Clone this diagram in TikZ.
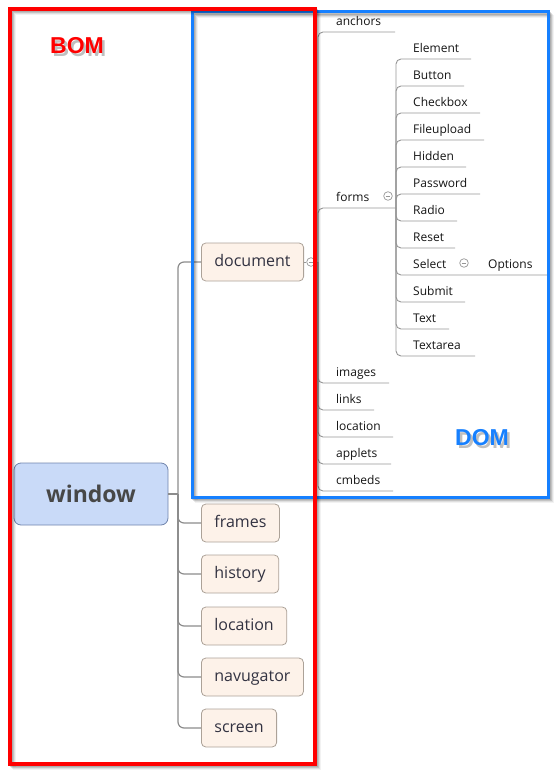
\documentclass[tikz,border=0pt]{standalone}
\usepackage{fontspec}
\setmainfont{Open Sans}
\newfontfamily\labelfont{Liberation Sans}
\usetikzlibrary{calc}
\definecolor{bomred}{RGB}{255,0,0}
\definecolor{domblue}{RGB}{22,128,255}
\definecolor{nodefill}{RGB}{253,242,233}
\definecolor{nodeborder}{RGB}{172,162,152}
\definecolor{winfill}{RGB}{201,218,248}
\definecolor{winborder}{RGB}{112,132,172}
\definecolor{linegray}{RGB}{150,150,150}
\definecolor{trunkgray}{RGB}{140,140,140}
\definecolor{txt}{RGB}{20,20,20}
\definecolor{nodetxt}{RGB}{50,50,65}
\begin{document}
\begin{tikzpicture}[x=1pt,y=-1pt,
  topic/.style={draw=nodeborder, fill=nodefill, rounded corners=4.5pt, line width=0.8pt,
    font=\fontsize{16}{18}\selectfont, text=nodetxt, minimum height=38pt,
    inner xsep=13pt, text height=11.5pt, text depth=3.5pt, anchor=west},
  rootnode/.style={draw=winborder, fill=winfill, rounded corners=7pt, line width=0.8pt,
    font=\bfseries\fontsize{23}{26}\selectfont, text=black!72, minimum width=154pt, minimum height=62pt},
  leaf/.style={font=\fontsize{12}{14}\selectfont, text=txt, anchor=south west,
    inner xsep=0pt, inner ysep=6.5pt, text height=9pt, text depth=0pt},
  conn/.style={draw=linegray, line width=0.9pt, rounded corners=5pt},
  trunk/.style={draw=trunkgray, line width=1.2pt, rounded corners=6pt},
  collapse/.style={circle, draw=linegray, fill=white, line width=0.7pt, minimum size=8.6pt, inner sep=0pt},
  shadowline/.style={draw=black, line width=3pt, opacity=0.12},
  biglabel/.style={font=\labelfont\bfseries\fontsize{23}{26}\selectfont}
]
\useasboundingbox (0,0) rectangle (557,770);

% ---- window and its children
\node[rootnode] (window) at (91,494) {window};
\coordinate (winj) at (178,494);
\node[topic] (document) at (201,262) {document};
\node[topic] (frames) at (201,523) {frames};
\node[topic] (history) at (201,574) {history};
\node[topic] (location) at (201,626) {location};
\node[topic] (navugator) at (201,677) {navugator};
\node[topic] (screen) at (201,728) {screen};
\draw[trunk] (window.east) -- (winj);
\foreach \n in {document,frames,history,location,navugator,screen}
  \draw[trunk] (winj) |- (\n.west);

% ---- document children
\node[collapse] (doccol) at (311,262) {};
\draw[linegray, line width=0.7pt] ($(doccol.center)+(-2.3,0)$) -- ($(doccol.center)+(2.3,0)$);
\coordinate (docj) at (318,262);
\draw[conn] (document.east) -- (doccol.west);
\draw[conn] (doccol.east) -- (docj);
\foreach \n/\t/\y/\e in {anchors/anchors/32/395, images/images/383/389, links/links/410/374,
    dlocation/location/437/393, applets/applets/464/391, cmbeds/cmbeds/491/393}{
  \node[leaf] (\n) at (336,\y) {\t};
  \draw[conn] (docj) |- (\n.south west) -- (\e,\y);
}
\node[leaf] (forms) at (336,208) {forms};
\coordinate (formsj) at (396,208);
\draw[conn] (docj) |- (forms.south west) -- (formsj);
\node[collapse] (formscol) at (388,196) {};
\draw[linegray, line width=0.7pt] ($(formscol.center)+(-2.3,0)$) -- ($(formscol.center)+(2.3,0)$);

% ---- forms children
\foreach \n/\y/\e in {Element/59/471, Button/86/464, Checkbox/113/480, Fileupload/140/484,
    Hidden/167/466, Password/194/480, Radio/221/457, Reset/248/455, Select/275/547,
    Submit/302/465, Text/329/449, Textarea/356/475}{
  \node[leaf] (\n) at (413,\y) {\n};
  \draw[conn] (formsj) |- (\n.south west) -- (\e,\y);
}
\node[collapse] (selcol) at (464,263) {};
\draw[linegray, line width=0.7pt] ($(selcol.center)+(-2.3,0)$) -- ($(selcol.center)+(2.3,0)$);
\node[leaf] (Options) at (488,275) {Options};

% ---- DOM frame (blue)
\foreach \o/\op in {1.5/0.16,2.5/0.12,3.5/0.08,4.5/0.05}
  \draw[shadowline, opacity=\op, shift={(\o,\o)}] (192,12) rectangle (548,497);
\draw[domblue, line width=3pt] (192,12) rectangle (548,497);

% ---- BOM frame (red)
\foreach \o/\op in {1.5/0.16,2.5/0.12,3.5/0.08,4.5/0.05}
  \draw[shadowline, opacity=\op, shift={(\o,\o)}] (10,9) rectangle (315,764);
\draw[bomred, line width=3.2pt] (10,9) rectangle (315,764);

% ---- labels with soft shadow
\node[biglabel, text=black, opacity=0.25] (bomshadow) at (79.5,48.5) {BOM};
\node[biglabel, text=black, opacity=0.25] (domshadow) at (484.5,440.5) {DOM};
\node[biglabel, text=bomred] (bom) at (77,46) {BOM};
\node[biglabel, text=domblue] (dom) at (482,438) {DOM};
\end{tikzpicture}
\end{document}
